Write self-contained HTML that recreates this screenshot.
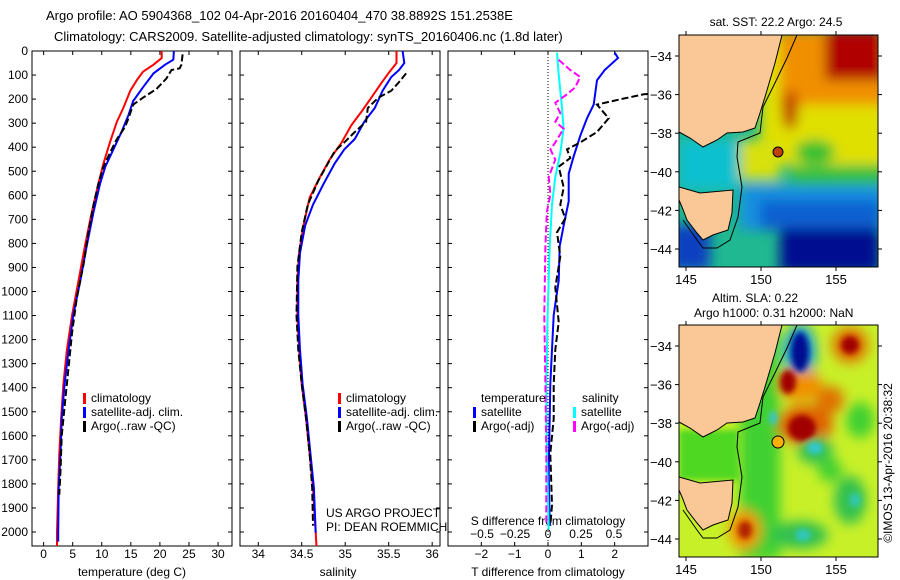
<!DOCTYPE html>
<html><head><meta charset="utf-8"><style>
body{margin:0;background:#fff;}
svg{display:block;font-family:"Liberation Sans",sans-serif;}
text{fill:#000;}
</style></head><body>
<svg id="fig" width="900" height="580" viewBox="0 0 900 580">
<defs>
<filter id="bl" x="-50%" y="-50%" width="200%" height="200%"><feGaussianBlur stdDeviation="6"/></filter>
<filter id="bl2" x="-50%" y="-50%" width="200%" height="200%"><feGaussianBlur stdDeviation="3"/></filter>
<clipPath id="m1"><rect x="679" y="35" width="199" height="232"/></clipPath>
<clipPath id="m2"><rect x="679" y="325" width="199" height="232"/></clipPath>
<clipPath id="p1"><rect x="32" y="51" width="200" height="495"/></clipPath>
<clipPath id="p2"><rect x="240" y="51" width="200" height="495"/></clipPath>
<clipPath id="p3"><rect x="448" y="51" width="200" height="495"/></clipPath>
</defs>
<text x="46" y="20" font-size="13">Argo profile: AO 5904368_102 04-Apr-2016 20160404_470 38.8892S 151.2538E</text>
<text x="54" y="41" font-size="13">Climatology: CARS2009. Satellite-adjusted climatology: synTS_20160406.nc (1.8d later)</text>

<!-- SST map -->
<g clip-path="url(#m1)">
<rect x="679" y="35" width="199" height="232" fill="#20b890"/>
<g filter="url(#bl)">
<rect x="760" y="35" width="130" height="130" fill="#e0e000"/>
<rect x="780" y="30" width="110" height="75" fill="#f09000"/>
<rect x="825" y="30" width="60" height="50" fill="#b00000"/>
<ellipse cx="790" cy="110" rx="8" ry="20" fill="#c03000"/>
<ellipse cx="815" cy="152" rx="20" ry="12" fill="#30c030"/>
<rect x="790" y="165" width="95" height="22" fill="#30c040"/>
<rect x="740" y="185" width="145" height="45" fill="#1890e0"/>
<rect x="760" y="200" width="120" height="30" fill="#1060d0"/>
<rect x="780" y="228" width="100" height="45" fill="#000890"/>
<rect x="670" y="225" width="40" height="45" fill="#1040c0"/>
<rect x="679" y="140" width="60" height="50" fill="#10c0d0"/>
<rect x="740" y="140" width="40" height="40" fill="#d8e010"/>
</g>
<path d="M679,35 L782,35 L775,63 L765,97 L760,113 L755,128 L743,132 L727,133 L717,140 L703,147 L690,138 L679,132 Z" fill="#f9c896" stroke="#000" stroke-width="1"/>
<path d="M679,187 L700,193 L733,190 L732,213 L728,230 L713,235 L703,240 L697,233 L687,220 L682,207 L679,200 Z" fill="#f9c896" stroke="#000" stroke-width="1"/>
<path d="M797,35 L787,58 L773,87 L763,107 L760,133 L738,142 L737,157 L742,187 L738,217 L730,240 L717,248 L703,248 L697,240 L683,220" fill="none" stroke="#000" stroke-width="1"/>
<circle cx="778" cy="152" r="5" fill="#c04000" stroke="#000"/>
</g>
<rect x="679" y="35" width="199" height="232" fill="none" stroke="#000"/>
<text x="776" y="26" font-size="12" text-anchor="middle">sat. SST: 22.2 Argo: 24.5</text>

<!-- SLA map -->
<g clip-path="url(#m2)">
<rect x="679" y="325" width="199" height="232" fill="#c8f028"/>
<g filter="url(#bl)">
<rect x="740" y="330" width="40" height="230" fill="#40d030"/>
<ellipse cx="800" cy="352" rx="16" ry="28" fill="#10a0e0"/>
<ellipse cx="800" cy="385" rx="22" ry="16" fill="#f09000"/>
<ellipse cx="805" cy="425" rx="28" ry="20" fill="#e06000"/>
<ellipse cx="830" cy="400" rx="14" ry="14" fill="#e07000"/>
<ellipse cx="850" cy="345" rx="18" ry="18" fill="#e07000"/>
<ellipse cx="815" cy="450" rx="18" ry="14" fill="#30c050"/>
<ellipse cx="860" cy="420" rx="14" ry="18" fill="#40d030"/>
<ellipse cx="850" cy="500" rx="16" ry="24" fill="#30c050"/>
<ellipse cx="800" cy="535" rx="28" ry="14" fill="#30c050"/>
<ellipse cx="745" cy="530" rx="16" ry="20" fill="#f09000"/>
<ellipse cx="830" cy="470" rx="12" ry="12" fill="#40d030"/>
</g>
<g filter="url(#bl2)">
<ellipse cx="800" cy="352" rx="9" ry="20" fill="#001090"/>
<ellipse cx="788" cy="382" rx="8" ry="12" fill="#a00000"/>
<ellipse cx="802" cy="428" rx="14" ry="13" fill="#a00000"/>
<ellipse cx="850" cy="345" rx="9" ry="9" fill="#a00000"/>
<ellipse cx="815" cy="448" rx="8" ry="6" fill="#30c8d0"/>
<ellipse cx="773" cy="418" rx="4" ry="7" fill="#30c8d0"/>
<ellipse cx="745" cy="530" rx="7" ry="9" fill="#b02000"/>
<ellipse cx="855" cy="500" rx="6" ry="7" fill="#30c8b0"/>
<ellipse cx="803" cy="535" rx="8" ry="6" fill="#30c8c0"/>
</g>
<rect x="679" y="430" width="60" height="50" fill="#50d820" filter="url(#bl2)"/>
<path d="M679,325 L782,325 L775,353 L765,387 L760,403 L755,418 L743,422 L727,423 L717,430 L703,437 L690,428 L679,422 Z" fill="#f9c896" stroke="#000" stroke-width="1"/>
<path d="M679,477 L700,483 L733,480 L732,503 L728,520 L713,525 L703,530 L697,523 L687,510 L682,497 L679,490 Z" fill="#f9c896" stroke="#000" stroke-width="1"/>
<path d="M797,325 L787,348 L773,377 L763,397 L760,423 L738,432 L737,447 L742,477 L738,507 L730,530 L717,538 L703,538 L697,530 L683,510" fill="none" stroke="#000" stroke-width="1"/>
<circle cx="778" cy="442" r="6" fill="#f8b000" stroke="#000"/>
</g>
<rect x="679" y="325" width="199" height="232" fill="none" stroke="#000"/>
<text x="712" y="302" font-size="12">Altim. SLA: 0.22</text>
<text x="694" y="317" font-size="12">Argo h1000: 0.31 h2000: NaN</text>
<text transform="translate(892,463) rotate(-90)" font-size="12" text-anchor="middle">©IMOS 13-Apr-2016 20:38:32</text>

<g id="dyn"></g>
</svg>
<script>
// ---- data ----
const tClimD=[0,29,57,86,122,165,237,294,380,467,553,668,811,955,1098,1242,1385,1529,1673,1816,2003,2060];
const tClimV=[20.3,20.3,18.9,17.1,16,14.9,13.7,12.6,11.4,10.3,9.4,8.3,7.1,6,4.9,4,3.4,3,2.7,2.5,2.3,2.3];
const tSatD=[0,36,57,93,151,208,266,337,409,481,553,668,811,955,1098,1242,1385,1529,1673,1816,2003,2040];
const tSatV=[22.4,22.3,20.9,18.9,17.1,15.4,14.6,13.4,12,10.6,9.7,8.6,7.4,6.3,5.1,4.3,3.6,3.1,2.9,2.6,2.5,2.5];
const tArgoD=[14,57,72,79,115,158,194,223,280,316,366,424,481,553,639,754,883,1027,1170,1314,1457,1601,1745,1845];
const tArgoV=[23.9,23.7,23.4,22,21.1,19.4,17.1,15.4,14.6,14,12.6,11.4,10.3,9.4,8.6,7.7,6.9,5.7,4.9,4.3,3.7,3.1,2.9,2.7];
const sClimD=[0,50,86,136,194,251,309,380,452,524,610,725,840,955,1098,1242,1385,1529,1673,1816,2003,2060];
const sClimV=[35.59,35.59,35.51,35.41,35.3,35.19,35.07,34.96,34.82,34.71,34.59,34.52,34.47,34.45,34.45,34.47,34.5,34.55,34.59,34.63,34.66,34.67];
const sSatD=[0,50,79,108,165,237,294,366,409,467,553,639,725,840,955,1098,1242,1385,1529,1673,1816,2003];
const sSatV=[35.66,35.68,35.62,35.53,35.43,35.34,35.22,35.11,34.99,34.88,34.75,34.63,34.54,34.48,34.46,34.46,34.48,34.51,34.56,34.6,34.64,34.66];
const sArgoD=[93,129,165,194,237,294,337,380,416,481,539,639,754,897,1098,1242,1385,1529,1673,1816,1974];
const sArgoV=[35.7,35.62,35.53,35.38,35.26,35.24,35.11,34.99,34.88,34.78,34.69,34.57,34.5,34.45,34.44,34.46,34.5,34.55,34.59,34.62,34.63];
const dTSatD=[7,29,79,122,223,280,352,438,510,625,725,811,955,1098,1242,1385,1529,1745,1974];
const dTSatV=[2.0,2.1,1.7,1.47,1.37,1.17,0.97,0.77,0.62,0.62,0.47,0.35,0.32,0.17,0.12,0.07,0.05,0.02,0.05];
const dTArgoD=[175,180,201,223,280,337,380,409,445,481,567,639,696,754,854,983,1127,1242,1385,1529,1673,1888,1974];
const dTArgoV=[3.3,2.87,2.17,1.47,1.82,1.47,0.97,0.57,0.67,0.32,0.47,0.37,0.52,0.27,0.37,0.22,0.32,0.22,0.17,0.17,0.07,0.12,0.07];
const dSSatD=[7,93,237,323,424,524,639,811,1098,1385,1673,1989];
const dSSatV=[0.068,0.08,0.106,0.118,0.093,0.055,0.03,0.013,-0.003,-0.013,-0.008,0.005];
const dSArgoD=[36,79,108,151,180,215,258,294,323,380,409,452,524,596,668,811,1098,1385,1673,1974];
const dSArgoV=[0.08,0.168,0.244,0.206,0.143,0.055,0.093,0.055,0.118,0.055,0.018,0.055,0.005,0.018,-0.008,-0.02,-0.028,-0.02,-0.013,-0.013];
const depthTicks=[0,100,200,300,400,500,600,700,800,900,1000,1100,1200,1300,1400,1500,1600,1700,1800,1900,2000];
const tTicks=[0,5,10,15,20,25,30];
const sTicks=[34,34.5,35,35.5,36];
const dTTicks=[-2,-1,0,1,2];
const dSTicks=[-0.5,-0.25,0,0.25,0.5];
const lonTicks=[145,150,155];
const latTicks=[-34,-36,-38,-40,-42,-44];

const NS='http://www.w3.org/2000/svg';
const g=document.getElementById('dyn');
function mk(tag,at,parent){const e=document.createElementNS(NS,tag);for(const k in at)e.setAttribute(k,at[k]);(parent||g).appendChild(e);return e;}
const top0=51,bot=546;
const yD=d=>top0+d*0.2405;
function axisX(x0,x1,v0,v1){return v=>x0+(v-v0)/(v1-v0)*(x1-x0);}
const P=[
 {x0:32,x1:232,v0:-2,v1:32.4,clip:'p1',name:'temperature'},
 {x0:240,x1:440,v0:33.79,v1:36.09,clip:'p2',name:'salinity'},
 {x0:448,x1:648,v0:-3,v1:3,clip:'p3',name:'difference'}];
P.forEach(p=>{p.fx=axisX(p.x0,p.x1,p.v0,p.v1);
 const r=mk('rect',{x:p.x0,y:top0,width:p.x1-p.x0,height:bot-top0,fill:'none',stroke:'#000'});
 
 
 depthTicks.forEach(d=>{const y=yD(d);
  mk('line',{x1:p.x0,x2:p.x0+4,y1:y,y2:y,stroke:'#000'});
  mk('line',{x1:p.x1,x2:p.x1-4,y1:y,y2:y,stroke:'#000'});});
});
depthTicks.forEach(d=>{const t=mk('text',{x:28,y:yD(d)+4,'font-size':12,'text-anchor':'end'});t.textContent=d;
 
 });
function xticks(p,ticks,fx,labY,fmt){ticks.forEach(v=>{const x=fx(v);
 mk('line',{x1:x,x2:x,y1:bot,y2:bot-4,stroke:'#000'});mk('line',{x1:x,x2:x,y1:top0,y2:top0+4,stroke:'#000'});
 const t=mk('text',{x:x,y:labY,'font-size':12,'text-anchor':'middle'});t.textContent=fmt?fmt(v):v;
 
 });}
const mfmt=v=>(v<0?'\u2212':'')+Math.abs(v);
xticks(P[0],tTicks,P[0].fx,558);
xticks(P[1],sTicks,P[1].fx,558);
xticks(P[2],dTTicks,P[2].fx,558,mfmt);
const fS=axisX(448,648,-0.758,0.758);
dSTicks.forEach(v=>{const t=mk('text',{x:fS(v),y:538,'font-size':12,'text-anchor':'middle'});t.textContent=mfmt(v);
 
 });
function lab(x,y,s,name,anchor){const t=mk('text',{x:x,y:y,'font-size':12,'text-anchor':anchor||'start'});t.textContent=s;
 
 return t;}
lab(132,576,'temperature (deg C)','x-axis-title-temperature','middle');
lab(338,576,'salinity','x-axis-title-salinity','middle');
lab(548,576,'T difference from climatology','x-axis-title-tdiff','middle');
lab(548,525,'S difference from climatology','s-diff-axis-title','middle');
lab(326,517,'US ARGO PROJECT','credit-project');
lab(326,531,'PI: DEAN ROEMMICH','credit-pi');
const zx=P[2].fx(0);
mk('line',{x1:zx,x2:zx,y1:top0,y2:bot,stroke:'#000','stroke-dasharray':'1,2','stroke-width':1});
function line(D,V,fx,clip,color,dash,name){
 const pts=D.map((d,i)=>fx(V[i]).toFixed(1)+','+yD(d).toFixed(1)).join(' ');
 const at={points:pts,fill:'none',stroke:color,'stroke-width':2,'clip-path':'url(#'+clip+')'};
 if(dash)at['stroke-dasharray']=dash;
 const e=mk('polyline',at);
 
 }
line(tClimD,tClimV,P[0].fx,'p1','#f00',null,'temp-climatology-line');
line(tSatD,tSatV,P[0].fx,'p1','#00f',null,'temp-satellite-line');
line(tArgoD,tArgoV,P[0].fx,'p1','#000','7,3','temp-argo-line');
line(sClimD,sClimV,P[1].fx,'p2','#f00',null,'sal-climatology-line');
line(sSatD,sSatV,P[1].fx,'p2','#00f',null,'sal-satellite-line');
line(sArgoD,sArgoV,P[1].fx,'p2','#000','7,3','sal-argo-line');
line(dTSatD,dTSatV,P[2].fx,'p3','#00f',null,'tdiff-satellite-line');
line(dTArgoD,dTArgoV,P[2].fx,'p3','#000','7,3','tdiff-argo-line');
line(dSSatD,dSSatV,fS,'p3','#0ff',null,'sdiff-satellite-line');
line(dSArgoD,dSArgoV,fS,'p3','#f0f','7,3','sdiff-argo-line');
function leg(x,y,color,s,name){mk('rect',{x:x,y:y-9,width:3,height:11,fill:color});
 lab(x+8,y,s,name);}
[[83],[338]].forEach(([x],k)=>{
 leg(x,402,'#f00','climatology','legend-climatology');
 leg(x,416,'#00f','satellite-adj. clim.','legend-satellite');
 leg(x,430,'#000','Argo(..raw -QC)','legend-argo');});
lab(481,402,'temperature','legend-temp-header');
leg(473,416,'#00f','satellite','legend-tdiff-satellite');
leg(473,430,'#000','Argo(-adj)','legend-tdiff-argo');
lab(582,402,'salinity','legend-sal-header');
leg(573,416,'#0ff','satellite','legend-sdiff-satellite');
leg(573,430,'#f0f','Argo(-adj)','legend-sdiff-argo');
const lonX=v=>686+(v-145)*15;
[[35,267,280],[325,557,570]].forEach(([t,b,ly])=>{
 const latY=v=>t+21+(-34-v)*19.3;
 lonTicks.forEach(v=>{const x=lonX(v);mk('line',{x1:x,x2:x,y1:b,y2:b+4,stroke:'#000'});mk('line',{x1:x,x2:x,y1:t,y2:t-4,stroke:'#000'});
  const e=lab(x,ly+4,String(v),'lon-tick-label','middle');e.setAttribute('font-size','13');});
 latTicks.forEach(v=>{const y=latY(v);mk('line',{x1:679,x2:675,y1:y,y2:y,stroke:'#000'});mk('line',{x1:878,x2:882,y1:y,y2:y,stroke:'#000'});
  const e=lab(672,y+5,mfmt(v),'lat-tick-label','end');e.setAttribute('font-size','13');});
});
</script>
</body></html>
